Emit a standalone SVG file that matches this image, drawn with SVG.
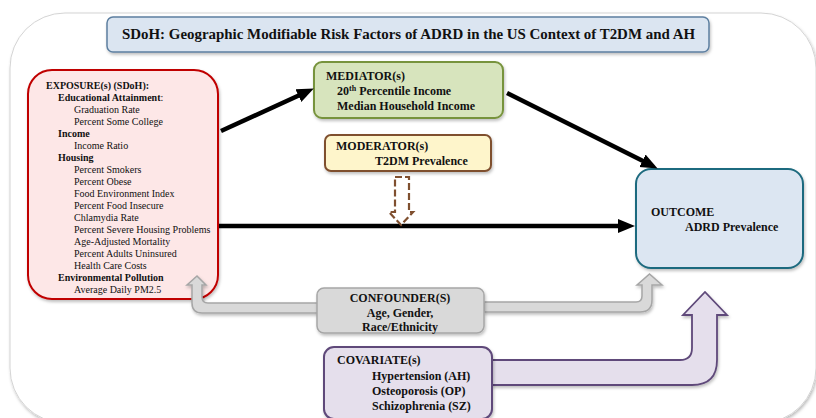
<svg xmlns="http://www.w3.org/2000/svg" width="816" height="418" viewBox="0 0 816 418" font-family="'Liberation Serif', 'Times New Roman', serif">
<defs>
<style>
text{font-family:'Liberation Serif','Times New Roman',serif;fill:#111;}
.b{font-weight:bold;}
.t12{font-size:12px;font-weight:bold;}
.t10{font-size:10px;}
.conn{stroke:#000;stroke-width:4.5;fill:none;marker-end:url(#ah);}
</style>
<filter id="sh" x="-10%" y="-10%" width="120%" height="130%">
<feDropShadow dx="1" dy="2" stdDeviation="1.5" flood-color="#000" flood-opacity="0.25"/>
</filter>
<marker id="ah" markerUnits="userSpaceOnUse" markerWidth="18" markerHeight="16" refX="4" refY="8" orient="auto">
<path d="M0,1 L17,8 L0,15 Z" fill="#000"/>
</marker>
</defs>
<rect x="10" y="13" width="806" height="410" rx="55" fill="#fff" stroke="#d4d4d4" stroke-width="1" filter="url(#sh)"/>
<g id="title">
<rect x="107" y="17" width="602" height="35" rx="6" fill="#dbe5f1" stroke="#5d7fa0" stroke-width="1.5" filter="url(#sh)"/>
<text x="122" y="39" class="b" font-size="14.5" textLength="573" lengthAdjust="spacingAndGlyphs">SDoH: Geographic Modifiable Risk Factors of ADRD in the US Context of T2DM and AH</text>
</g>
<g id="exposure">
<rect x="28" y="70" width="190" height="229" rx="24" fill="#fde7e7" stroke="#c00000" stroke-width="2" filter="url(#sh)"/>
<text class="t10 b" x="46" y="89">EXPOSURE(s) (SDoH):</text>
<text class="t10 b" x="58" y="101">Educational Attainment<tspan font-weight="normal">:</tspan></text>
<text class="t10" x="74" y="113">Graduation Rate</text>
<text class="t10" x="74" y="125">Percent Some College</text>
<text class="t10 b" x="58" y="137">Income</text>
<text class="t10" x="74" y="149">Income Ratio</text>
<text class="t10 b" x="58" y="161">Housing</text>
<text class="t10" x="74" y="173">Percent Smokers</text>
<text class="t10" x="74" y="185">Percent Obese</text>
<text class="t10" x="74" y="197">Food Environment Index</text>
<text class="t10" x="74" y="209">Percent Food Insecure</text>
<text class="t10" x="74" y="221">Chlamydia Rate</text>
<text class="t10" x="74" y="233">Percent Severe Housing Problems</text>
<text class="t10" x="74" y="245">Age-Adjusted Mortality</text>
<text class="t10" x="74" y="257">Percent Adults Uninsured</text>
<text class="t10" x="74" y="269">Health Care Costs</text>
<text class="t10 b" x="58" y="281">Environmental Pollution</text>
<text class="t10" x="74" y="293">Average Daily PM2.5</text>
</g>
<g id="mediator">
<rect x="314" y="62" width="189" height="56" rx="8" fill="#d7e4bd" stroke="#77933c" stroke-width="2" filter="url(#sh)"/>
<text class="t12" x="326" y="80">MEDIATOR(s)</text>
<text class="t12" x="337" y="95">20<tspan font-size="8" dy="-4">th</tspan><tspan dy="4"> Percentile Income</tspan></text>
<text class="t12" x="337" y="110">Median Household Income</text>
</g>
<g id="moderator">
<rect x="325" y="135" width="166" height="36" rx="6" fill="#fef5cb" stroke="#7f4f2f" stroke-width="2" filter="url(#sh)"/>
<text class="t12" x="336" y="150">MODERATOR(s)</text>
<text class="t12" x="375" y="165">T2DM Prevalence</text>
</g>
<g id="outcome">
<rect x="636" y="169" width="167" height="99" rx="15" fill="#dce6f2" stroke="#1f6b7f" stroke-width="2" filter="url(#sh)"/>
<text class="t12" x="651" y="216">OUTCOME</text>
<text class="t12" x="685" y="231">ADRD Prevalence</text>
</g>
<g id="connectors">
<line class="conn" x1="221" y1="131" x2="302" y2="94"/>
<line class="conn" x1="507" y1="93" x2="646" y2="162.6"/>
<line class="conn" x1="219" y1="226" x2="622" y2="226"/>
<path d="M395,177 L409,177 L409,212 L413,212 L401,225 L389,212 L395,212 Z" fill="#fff" stroke="#7f4f2f" stroke-width="2.2" stroke-dasharray="7,3"/>
<path d="M318,303 L208,303 Q202,303 202,297 L202,285 L206,285 L197,276 L187,285 L192,285 L192,303 Q192,313 202,313 L318,313 Z" fill="#d9d9d9" stroke="#a6a6a6" stroke-width="1.5" filter="url(#sh)"/>
<path d="M484,302 L636,302 Q642,302 642,296 L642,285 L637,285 L649.5,274 L662,285 L652,285 L652,300 Q652,312 640,312 L484,312 Z" fill="#d9d9d9" stroke="#a6a6a6" stroke-width="1.5" filter="url(#sh)"/>
<path d="M492,360 L680,360 Q692,360 692,348 L692,315 L683,315 L705,292 L727,315 L717,315 L717,360 Q717,385 692,385 L492,385 Z" fill="#e5dfec" stroke="#5f497a" stroke-width="1.8" filter="url(#sh)"/>
</g>
<g id="confounder">
<rect x="317" y="288" width="167" height="45" rx="7" fill="#d9d9d9" stroke="#a6a6a6" stroke-width="1.5" filter="url(#sh)"/>
<text class="t12" x="400" y="302" text-anchor="middle">CONFOUNDER(S)</text>
<text class="t12" x="400" y="317" text-anchor="middle">Age, Gender,</text>
<text class="t12" x="400" y="331" text-anchor="middle">Race/Ethnicity</text>
</g>
<g id="covariate">
<rect x="324" y="347" width="168" height="72" rx="10" fill="#e5dfec" stroke="#5f497a" stroke-width="2" filter="url(#sh)"/>
<text class="t12" x="337" y="364">COVARIATE(s)</text>
<text class="t12" x="372" y="380">Hypertension (AH)</text>
<text class="t12" x="372" y="395">Osteoporosis (OP)</text>
<text class="t12" x="372" y="410">Schizophrenia (SZ)</text>
</g>
</svg>
